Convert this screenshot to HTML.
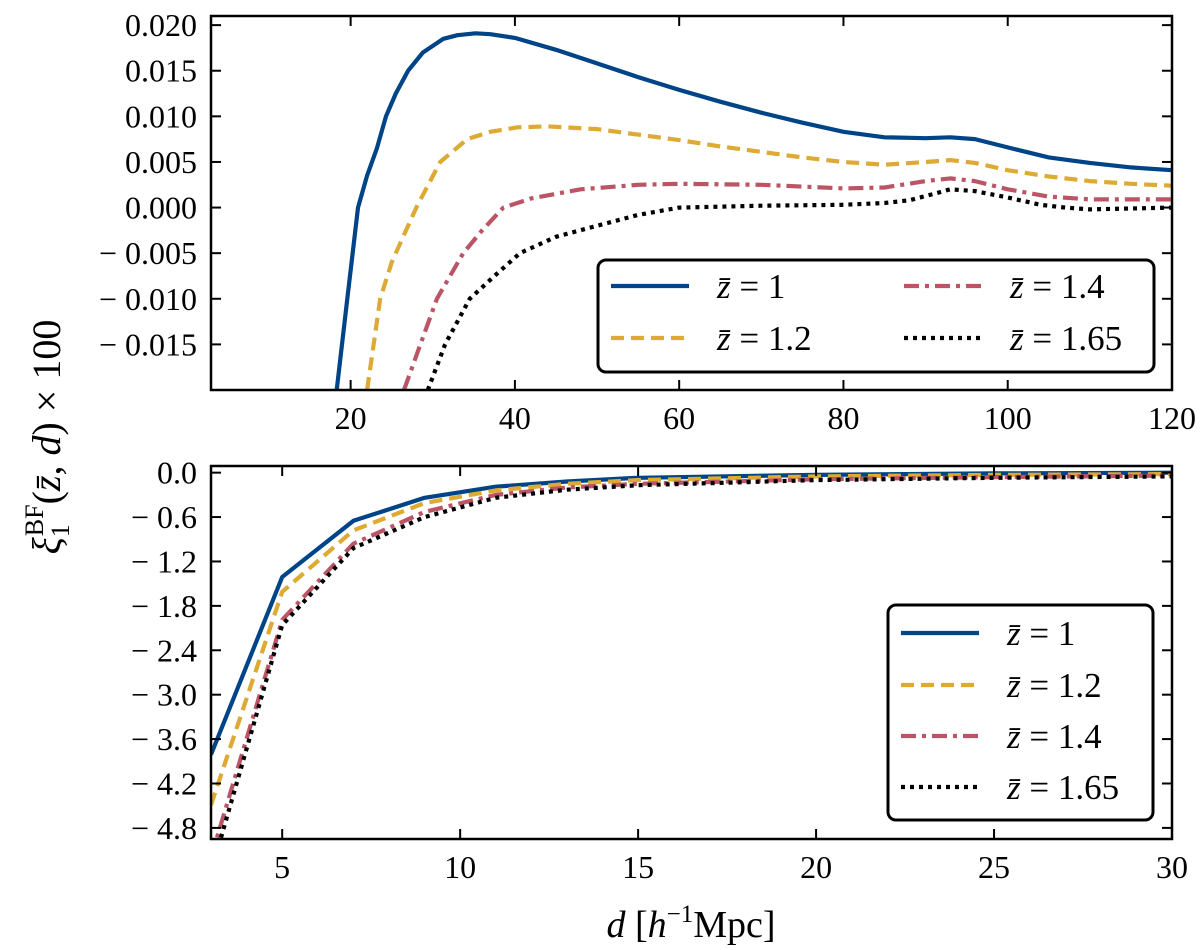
<!DOCTYPE html>
<html><head><meta charset="utf-8"><style>
html,body{margin:0;padding:0;background:#fff;}
svg{display:block;font-family:"Liberation Serif",serif;}
</style></head><body>
<svg id="chart" width="1200" height="950" xmlns="http://www.w3.org/2000/svg">
<g id="top"></g>
<g id="bot"></g>
<text transform="translate(60,437) rotate(-90)" text-anchor="middle" font-size="40" font-style="italic">ξ<tspan font-size="26" dy="9" font-style="normal">1</tspan><tspan font-size="26" dy="-26" dx="-12" font-style="normal">BF</tspan><tspan dy="17" font-style="normal">(</tspan>z̄<tspan font-style="normal">, </tspan>d<tspan font-style="normal">) × 100</tspan></text>
<text x="691" y="937" text-anchor="middle" font-size="38"><tspan font-style="italic">d</tspan> [<tspan font-style="italic">h</tspan><tspan font-size="25" dy="-15">−1</tspan><tspan dy="15">Mpc]</tspan></text>
</svg>
<script>
const seriesNames = ["z̄ = 1","z̄ = 1.2","z̄ = 1.4","z̄ = 1.65"];
const topBlueD = [18.3,19.6,20.9,22,23.2,24.3,25.5,27,28.8,31.3,33,35.2,37,40,45,50,55,60,65,70,75,80,85,90,93,96,100,105,110,115,120];
const topBlueV = [-0.020,-0.010,0,0.0035,0.0065,0.0100,0.0125,0.0150,0.0170,0.0185,0.0189,0.0191,0.0190,0.0186,0.0173,0.0158,0.0143,0.0129,0.0116,0.0104,0.0093,0.0083,0.0077,0.0076,0.0077,0.0075,0.0066,0.0055,0.0049,0.0044,0.0041];
const topYellowD = [22,23.6,25,26.5,28,30.9,34.2,37,40.3,44,50,55,60,65,70,75,80,85,90,93,96,100,105,110,115,120];
const topYellowV = [-0.020,-0.010,-0.006,-0.003,0,0.005,0.0075,0.0083,0.0088,0.0089,0.0086,0.0080,0.0074,0.0067,0.0061,0.0055,0.0050,0.0047,0.0050,0.0052,0.0049,0.0041,0.0034,0.0029,0.0026,0.0024];
const topRedD = [26.5,28.5,30.5,33.7,36,38.6,42,48,55,60,70,80,85,90,93,96,100,105,110,115,120];
const topRedV = [-0.020,-0.015,-0.010,-0.005,-0.0025,0,0.0010,0.0020,0.0025,0.0026,0.0025,0.0021,0.0022,0.0029,0.0032,0.0029,0.0020,0.0012,0.0009,0.0009,0.0009];
const topBlackD = [29.4,31.5,34.5,37.5,40.6,45,50,55,60,70,80,85,88,91,93,96,100,104,107,110,115,120];
const topBlackV = [-0.020,-0.015,-0.010,-0.0075,-0.005,-0.0032,-0.0020,-0.0008,0,0.0002,0.0003,0.0005,0.0008,0.0015,0.0020,0.0018,0.0011,0.0003,0,-0.0002,-0.0001,0];
const botD = [3,5,7,9,11,13,15,20,25,30];
const botBlue = [-3.81,-1.41,-0.65,-0.34,-0.19,-0.12,-0.07,-0.03,-0.01,0.0];
const botYellow = [-4.49,-1.61,-0.78,-0.41,-0.24,-0.15,-0.10,-0.05,-0.03,-0.02];
const botRed = [-5.2,-1.99,-0.96,-0.53,-0.30,-0.20,-0.15,-0.09,-0.06,-0.04];
const botBlack = [-5.4,-2.06,-1.02,-0.60,-0.34,-0.23,-0.17,-0.10,-0.07,-0.05];
const topXTicks = [20,40,60,80,100,120];
const topYTicks = [0.020,0.015,0.010,0.005,0.000,-0.005,-0.010,-0.015];
const botXTicks = [5,10,15,20,25,30];
const botYTicks = [0.0,-0.6,-1.2,-1.8,-2.4,-3.0,-3.6,-4.2,-4.8];

const NS="http://www.w3.org/2000/svg";
const styles=[{c:"#004488",d:""},{c:"#DDAA33",d:"13 7"},{c:"#BB5566",d:"15 6 4 6"},{c:"#000000",d:"4 5"}];
function mk(tag,attrs,parent){const e=document.createElementNS(NS,tag);for(const k in attrs)e.setAttribute(k,attrs[k]);parent.appendChild(e);return e;}

function panel(g,P,xd,yd,xt,yt,fmtY,series,legend,clip){
  const sx=v=>P.l+(v-xd[0])/(xd[1]-xd[0])*(P.r-P.l);
  const sy=v=>P.b-(v-yd[0])/(yd[1]-yd[0])*(P.b-P.t);
  const defs=mk('defs',{},g);
  const cp=mk('clipPath',{id:clip},defs);
  mk('rect',{x:P.l,y:P.t,width:P.r-P.l,height:P.b-P.t},cp);
  const lg=mk('g',{'clip-path':'url(#'+clip+')'},g);
  series.forEach((s,i)=>{
    const pts=s.x.map((x,j)=>sx(x).toFixed(1)+','+sy(s.y[j]).toFixed(1)).join(' ');
    const pl=mk('polyline',{points:pts,fill:'none',stroke:styles[i].c,'stroke-width':4.2,'stroke-dasharray':styles[i].d,'stroke-linejoin':'round'},lg);
    
    
  });
  xt.forEach(v=>{const x=sx(v);
    mk('line',{x1:x,x2:x,y1:P.b,y2:P.b-10,stroke:'#000','stroke-width':2},g);
    mk('line',{x1:x,x2:x,y1:P.t,y2:P.t+10,stroke:'#000','stroke-width':2},g);
    const t=mk('text',{x:x,y:P.b+39,'text-anchor':'middle','font-size':32},g);t.textContent=String(v);
    
    
  });
  yt.forEach(v=>{const y=sy(v);
    mk('line',{x1:P.l,x2:P.l+10,y1:y,y2:y,stroke:'#000','stroke-width':2},g);
    mk('line',{x1:P.r,x2:P.r-10,y1:y,y2:y,stroke:'#000','stroke-width':2},g);
    const t=mk('text',{x:P.l-14,y:y+11,'text-anchor':'end','font-size':32},g);t.textContent=fmtY(v);
    
    
  });
  const fr=mk('rect',{x:P.l,y:P.t,width:P.r-P.l,height:P.b-P.t,fill:'none',stroke:'#000','stroke-width':2.5},g);
  
  
  const lgG=mk('g',{},g);
  
  
  mk('rect',{x:legend.box[0],y:legend.box[1],width:legend.box[2],height:legend.box[3],rx:8,fill:'#fff',stroke:'#000','stroke-width':3},lgG);
  legend.items.forEach((it,i)=>{
    const l=mk('line',{x1:it[0],x2:it[0]+78,y1:it[1],y2:it[1],stroke:styles[i].c,'stroke-width':4.2,'stroke-dasharray':styles[i].d},lgG);
    
    
    const t=mk('text',{x:it[0]+106,y:it[1]+12,'font-size':35},lgG);
    t.innerHTML='<tspan font-style="italic">z̄</tspan> = '+seriesNames[i].split('= ')[1];
    
    
  });
}
const fmtTop=v=>(v<0?'− ':'')+Math.abs(v).toFixed(3);
const fmtBot=v=>(v<0?'− ':'')+Math.abs(v).toFixed(1);
panel(document.getElementById('top'),{l:211,r:1172,t:16,b:390},[3,120],[-0.020,0.021],topXTicks,topYTicks,fmtTop,
 [{x:topBlueD,y:topBlueV},{x:topYellowD,y:topYellowV},{x:topRedD,y:topRedV},{x:topBlackD,y:topBlackV}],
 {box:[598,260,556,112],items:[[611,286],[611,338],[904,286],[904,338]]},'c1');
panel(document.getElementById('bot'),{l:211,r:1172,t:466,b:839},[3,30],[-4.95,0.09],botXTicks,botYTicks,fmtBot,
 [{x:botD,y:botBlue},{x:botD,y:botYellow},{x:botD,y:botRed},{x:botD,y:botBlack}],
 {box:[888,605,265,215],items:[[901,633],[901,685],[901,736],[901,787]]},'c2');
</script>
</body></html>
